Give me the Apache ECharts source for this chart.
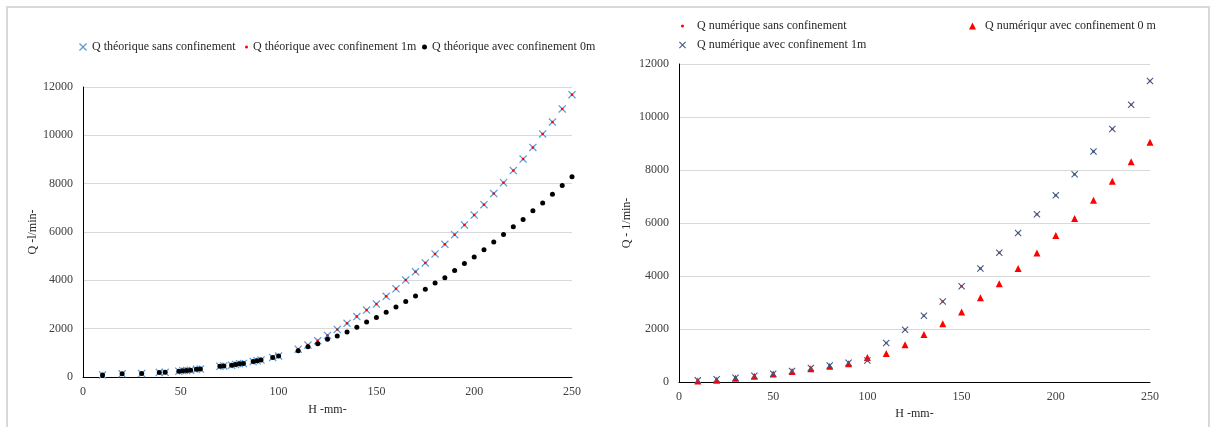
<!DOCTYPE html>
<html>
<head>
<meta charset="utf-8">
<script src="https://cdn.jsdelivr.net/npm/echarts@6/dist/echarts.min.js"></script>
<style>
html,body{margin:0;padding:0;background:#fff;}
#c{width:1214px;height:427px;}
</style>
</head>
<body>
<div id="c"></div>
<script>
// ---- Left chart data (théorique) ----
const hTheo = [10,20,30,39,42,49,51,53,55,58,60,70,72,76,78,80,82,87,89,91,97,100,110,
  115,120,125,130,135,140,145,150,155,160,165,170,175,180,185,190,195,200,205,210,215,220,225,230,235,240,245,250];
const qTheoSans = [85,130,140,190,195,240,260,270,280,320,330,440,460,490,520,550,560,640,670,700,810,870,1150,
  1320,1500,1720,1970,2220,2500,2770,3020,3340,3650,4010,4360,4720,5090,5490,5890,6290,6700,7130,7590,8040,8540,9020,9500,10060,10550,11090,11680];
const qTheo1m = [85,130,140,190,195,240,260,270,280,320,330,440,460,490,520,550,560,640,670,700,810,870,1150,
  1320,1500,1720,1970,2220,2500,2770,3020,3340,3650,4010,4360,4720,5090,5490,5890,6290,6700,7130,7590,8040,8540,9020,9500,10060,10550,11090,11680];
const qTheo0m = [85,130,140,190,195,240,260,270,280,320,330,440,460,490,520,550,560,640,670,700,810,870,1090,
  1255,1380,1560,1700,1860,2060,2280,2460,2680,2900,3120,3350,3630,3890,4110,4410,4700,4970,5270,5590,5900,6220,6520,6880,7200,7560,7920,8290];

// ---- Right chart data (numérique) ----
const hNum = [10,20,30,40,50,60,70,80,90,100,110,120,130,140,150,160,170,180,190,200,210,220,230,240,250];
const qNumSans = [62,100,162,237,312,412,525,625,725,812,1475,1975,2500,3040,3610,4280,4880,5620,6330,7050,7840,8700,9550,10460,11360];
const qNum1m = [62,100,162,237,312,412,525,625,725,812,1475,1975,2500,3040,3610,4280,4880,5620,6330,7050,7840,8700,9550,10460,11360];
const qNum0m = [40,70,137,220,300,400,500,590,690,925,1075,1410,1795,2200,2640,3180,3710,4280,4870,5525,6170,6860,7580,8310,9050];

// ---- Labels ----
const namesTheo = ['Q théorique sans confinement','Q théorique avec confinement 1m','Q théorique avec confinement 0m'];
const namesNum = ['Q numérique sans confinement','Q numérique avec confinement 1m','Q numériqur avec confinement 0 m'];
const xName = 'H -mm-';
const yNameLeft = 'Q -l/min-';
const yNameRight = 'Q - 1/min-';

function pairs(xs, ys){ return xs.map((x,i)=>[x, ys[i]]); }

const XPATH = 'path://M0,1.1L1.1,0L5,3.9L8.9,0L10,1.1L6.1,5L10,8.9L8.9,10L5,6.1L1.1,10L0,8.9L3.9,5Z';
const FONT = '"Liberation Serif","Times New Roman",serif';
const colLightBlue = '#5B9BD5';
const colSlate = '#3F5A86';
const colRed = '#FF0000';

function xAxisCfg(idx, gap){
  return {
    gridIndex: idx, type: 'value', min: 0, max: 250, interval: 50,
    name: xName, nameLocation: 'middle', nameGap: gap,
    nameTextStyle: {fontFamily: FONT, fontSize: 12, color: '#262626'},
    axisLine: {show: true, onZero: false, lineStyle: {color: '#000', width: 1}},
    axisTick: {show: false},
    axisLabel: {fontFamily: FONT, fontSize: 12, color: '#404040', margin: 9, formatter: v => String(v)},
    splitLine: {show: false}
  };
}
function yAxisCfg(idx, name, gap){
  return {
    gridIndex: idx, type: 'value', min: 0, max: 12000, interval: 2000,
    name: name, nameLocation: 'middle', nameGap: gap, nameRotate: 90,
    nameTextStyle: {fontFamily: FONT, fontSize: 12, color: '#262626'},
    axisLine: {show: true, lineStyle: {color: '#000', width: 1}},
    axisTick: {show: false},
    axisLabel: {fontFamily: FONT, fontSize: 12, color: '#404040', margin: 10, formatter: v => String(v)},
    splitLine: {show: true, lineStyle: {color: '#D9D9D9', width: 1}}
  };
}
function legendCfg(name, icon, left, top, w, h, padLeft){
  return {
    data: [{name: name, icon: icon}], left: left, top: top,
    itemWidth: w, itemHeight: h, padding: 0,
    textStyle: {fontFamily: FONT, fontSize: 12, color: '#262626', padding: [0, 0, 0, padLeft || 0]},
    selectedMode: false
  };
}

const chart = echarts.init(document.getElementById('c'), null, {renderer: 'canvas'});
chart.setOption({
  animation: false,
  backgroundColor: '#fff',
  graphic: [{
    type: 'rect', shape: {x: 7, y: 7, width: 1202, height: 440},
    style: {fill: 'none', stroke: '#D9D9D9', lineWidth: 2}, silent: true, z: -10
  }],
  grid: [
    {left: 83, top: 87, width: 489, height: 290},
    {left: 679, top: 64, width: 471, height: 318}
  ],
  xAxis: [xAxisCfg(0, 27), xAxisCfg(1, 26)],
  yAxis: [yAxisCfg(0, yNameLeft, 43), yAxisCfg(1, yNameRight, 46)],
  legend: [
    legendCfg(namesTheo[0], XPATH, 79, 41, 8, 8, 0),
    legendCfg(namesTheo[1], 'circle', 245, 41, 3, 3, 0),
    legendCfg(namesTheo[2], 'circle', 422, 41, 5, 5, 0),
    legendCfg(namesNum[0], 'circle', 681, 20, 3, 3, 8),
    legendCfg(namesNum[2], 'triangle', 969, 20, 7, 7, 4),
    legendCfg(namesNum[1], XPATH, 679, 39, 7, 7, 6)
  ],
  series: [
    {name: namesTheo[0], type: 'scatter', xAxisIndex: 0, yAxisIndex: 0,
     data: pairs(hTheo, qTheoSans), symbol: XPATH, symbolSize: 8,
     itemStyle: {color: colLightBlue, opacity: 1}, z: 2},
    {name: namesTheo[1], type: 'scatter', xAxisIndex: 0, yAxisIndex: 0,
     data: pairs(hTheo, qTheo1m), symbol: 'circle', symbolSize: 2.5,
     itemStyle: {color: colRed, opacity: 1}, z: 3},
    {name: namesTheo[2], type: 'scatter', xAxisIndex: 0, yAxisIndex: 0,
     data: pairs(hTheo, qTheo0m), symbol: 'circle', symbolSize: 5,
     itemStyle: {color: '#000', opacity: 1}, z: 4},
    {name: namesNum[0], type: 'scatter', xAxisIndex: 1, yAxisIndex: 1,
     data: pairs(hNum, qNumSans), symbol: 'circle', symbolSize: 2.5,
     itemStyle: {color: colRed, opacity: 1}, z: 2},
    {name: namesNum[2], type: 'scatter', xAxisIndex: 1, yAxisIndex: 1,
     data: pairs(hNum, qNum0m), symbol: 'triangle', symbolSize: 7,
     itemStyle: {color: colRed, opacity: 1}, z: 3},
    {name: namesNum[1], type: 'scatter', xAxisIndex: 1, yAxisIndex: 1,
     data: pairs(hNum, qNum1m), symbol: XPATH, symbolSize: 7,
     itemStyle: {color: colSlate, opacity: 1}, z: 4}
  ]
});
</script>
</body>
</html>
